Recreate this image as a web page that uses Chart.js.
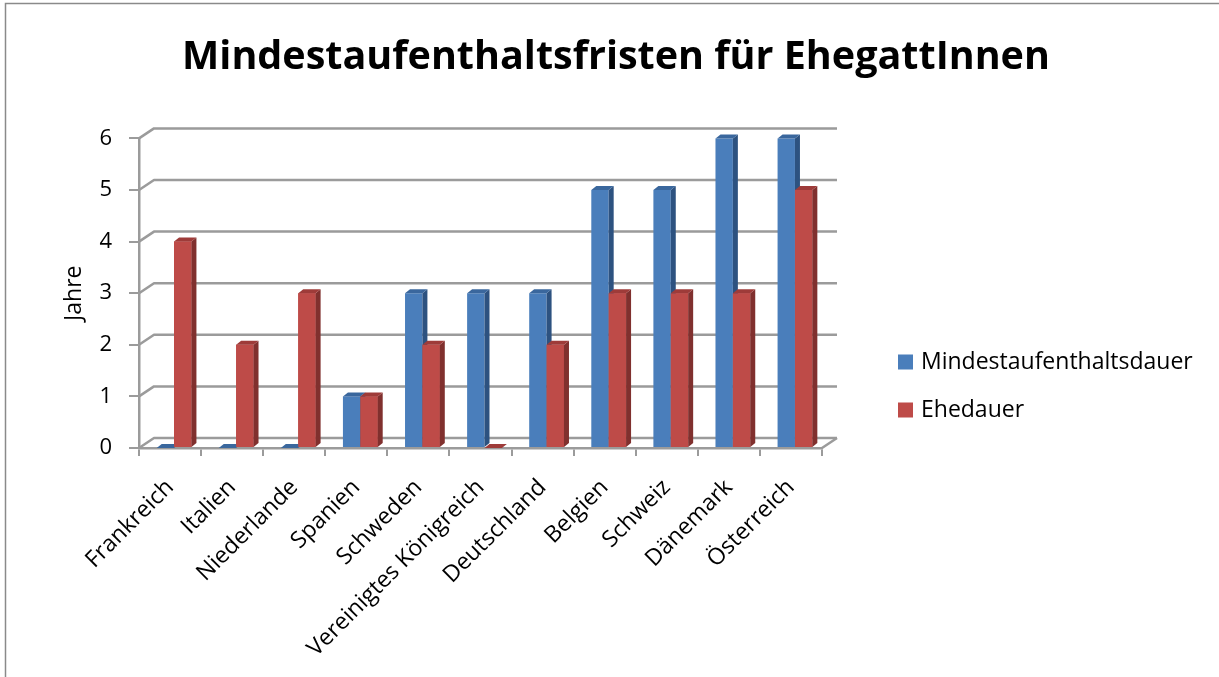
<!DOCTYPE html>
<html lang="de">
<head>
<meta charset="UTF-8">
<title>Mindestaufenthaltsfristen für EhegattInnen</title>
<script src="https://cdn.jsdelivr.net/npm/chart.js@4"></script>
<style>
  html, body { margin: 0; padding: 0; background: #fff; }
  #wrap { width: 1219px; height: 677px; position: relative; }
</style>
</head>
<body>
<div id="wrap"><canvas id="chart"></canvas></div>
<script>
// data
const laender = ['Frankreich', 'Italien', 'Niederlande', 'Spanien', 'Schweden',
  'Vereinigtes Königreich', 'Deutschland', 'Belgien', 'Schweiz', 'Dänemark', 'Österreich'];
const mindestaufenthaltsdauer = [0, 0, 0, 1, 3, 3, 3, 5, 5, 6, 6];
const ehedauer = [4, 2, 3, 1, 2, 0, 2, 3, 3, 3, 5];
const jahreTicks = [0, 1, 2, 3, 4, 5, 6];

const FONT = '"Open Sans", "Noto Sans", sans-serif';
const GRID = '#9b9b9b';
// front / top / side colours per series
const faces = [
  { front: '#4a7ebb', top: '#3a679d', side: '#2d5280' },
  { front: '#be4b48', top: '#9e3b39', side: '#80302e' }
];
const wallDepth = { dx: 15, dy: -10 };
const barDepth = { dx: 5, dy: -4, shift: 4 };

function drawFaces(c, meta, f) {
  const { dx, dy } = barDepth;
  meta.data.forEach(el => {
    const l = el.x - el.width / 2, r = el.x + el.width / 2;
    c.fillStyle = f.side;
    c.beginPath();
    c.moveTo(r, el.y);
    c.lineTo(r + dx, el.y + dy);
    c.lineTo(r + dx, el.base + dy);
    c.lineTo(r, el.base);
    c.closePath();
    c.fill();
    c.fillStyle = f.top;
    c.beginPath();
    c.moveTo(l, el.y);
    c.lineTo(l + dx, el.y + dy);
    c.lineTo(r + dx, el.y + dy);
    c.lineTo(r, el.y);
    c.closePath();
    c.fill();
  });
}

const excel3d = {
  id: 'excel3d',
  beforeDraw(chart) {
    const c = chart.ctx;
    c.save();
    c.fillStyle = '#fff';
    c.fillRect(0, 0, chart.width, chart.height);
    c.strokeStyle = '#8a8a8a';
    c.lineWidth = 1.5;
    c.beginPath();
    c.moveTo(5.5, chart.height);
    c.lineTo(5.5, 3.5);
    c.lineTo(chart.width, 3.5);
    c.stroke();
    c.restore();
  },
  beforeDatasetsDraw(chart) {
    const c = chart.ctx, a = chart.chartArea, ys = chart.scales.y;
    c.save();
    c.strokeStyle = GRID;
    c.lineWidth = 2.5;
    c.lineJoin = 'round';
    jahreTicks.forEach(v => {
      const y = ys.getPixelForValue(v);
      c.beginPath();
      c.moveTo(a.left, y);
      c.lineTo(a.left + wallDepth.dx, y + wallDepth.dy);
      c.lineTo(a.right + wallDepth.dx, y + wallDepth.dy);
      c.stroke();
    });
    // right edge of the floor
    c.beginPath();
    c.moveTo(a.right, a.bottom);
    c.lineTo(a.right + wallDepth.dx, a.bottom + wallDepth.dy);
    c.stroke();
    c.restore();
    c.save();
    c.translate(barDepth.shift, 0);
  },
  afterDatasetsDraw(chart) {
    const c = chart.ctx;
    const m0 = chart.getDatasetMeta(0), m1 = chart.getDatasetMeta(1);
    drawFaces(c, m0, faces[0]);
    // red fronts again so they cover the blue sides
    m1.data.forEach(el => el.draw(c));
    drawFaces(c, m1, faces[1]);
    c.restore();
  },
  afterDraw(chart) {
    const c = chart.ctx;
    c.save();
    c.font = '23px ' + FONT;
    c.textBaseline = 'middle';
    c.textAlign = 'left';
    chart.data.datasets.forEach((ds, i) => {
      const y = 362 + i * 48;
      c.fillStyle = faces[i].front;
      c.fillRect(898, y - 7.5, 15, 15);
      c.fillStyle = '#000';
      c.fillText(ds.label, 921, y);
    });
    c.restore();
  }
};

new Chart(document.getElementById('chart'), {
  type: 'bar',
  data: {
    labels: laender,
    datasets: [
      { label: 'Mindestaufenthaltsdauer', data: mindestaufenthaltsdauer,
        backgroundColor: faces[0].front, clip: false },
      { label: 'Ehedauer', data: ehedauer,
        backgroundColor: faces[1].front, clip: false }
    ]
  },
  options: {
    responsive: true,
    maintainAspectRatio: false,
    animation: false,
    devicePixelRatio: 1,
    layout: { padding: { left: 13, right: 0, top: 0, bottom: 0 } },
    datasets: { bar: { categoryPercentage: 0.56, barPercentage: 1, borderWidth: 0 } },
    plugins: {
      legend: { display: false },
      tooltip: { enabled: false },
      title: {
        display: true,
        text: 'Mindestaufenthaltsfristen für EhegattInnen',
        color: '#000',
        font: { family: FONT, size: 39.5, weight: 'bold' },
        padding: { top: 34, bottom: 57 }
      }
    },
    scales: {
      x: {
        afterFit(s) { s.height = 229; },
        grid: { drawOnChartArea: false, drawTicks: true, tickLength: 8, color: GRID, lineWidth: 2, offset: true },
        border: { display: true, color: GRID, width: 2.5 },
        ticks: { color: '#000', font: { family: FONT, size: 23 }, maxRotation: 45, minRotation: 45,
          autoSkip: false, padding: 18 }
      },
      y: {
        min: 0, max: 6,
        afterFit(s) { s.width = 126; },
        afterBuildTicks(s) { s.ticks = jahreTicks.map(v => ({ value: v })); },
        grid: { drawOnChartArea: false, drawTicks: true, tickLength: 10, color: GRID, lineWidth: 2 },
        border: { display: true, color: GRID, width: 2.5 },
        ticks: { color: '#000', font: { family: FONT, size: 22 }, padding: 17 },
        title: { display: true, text: 'Jahre', color: '#000',
          font: { family: FONT, size: 23 }, padding: { top: 48, bottom: 0 } }
      },
      // empty right-hand axis that keeps room for the legend
      rechts: {
        type: 'linear', position: 'right', display: true,
        afterFit(s) { s.width = 397; },
        grid: { display: false }, border: { display: false }, ticks: { display: false }
      }
    }
  },
  plugins: [excel3d]
});
</script>
</body>
</html>
